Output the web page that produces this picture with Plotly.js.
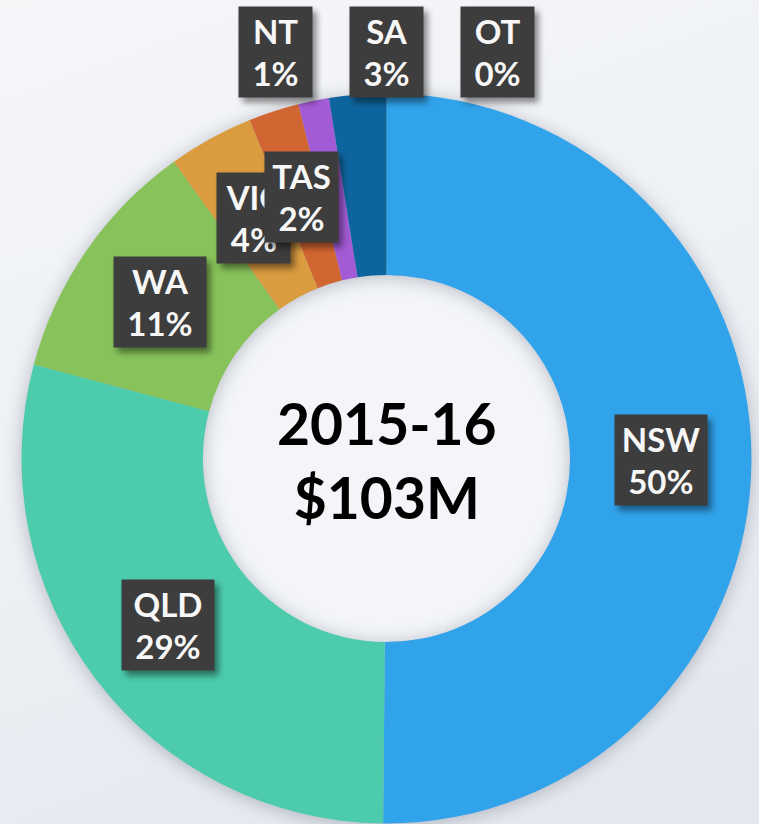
<!DOCTYPE html>
<html>
<head>
<meta charset="utf-8">
<script src="https://cdn.plot.ly/plotly-3.0.1.min.js"></script>
<style>
  html, body { margin: 0; padding: 0; }
  body { width: 759px; height: 824px; overflow: hidden;
    background: linear-gradient(160deg, #f5f6f8 0%, #eef1f5 45%, #e3e7ee 100%); }
  #chart { width: 759px; height: 824px; }
  .pielayer .trace { filter: drop-shadow(0px 2px 9px rgba(40,50,70,0.30)); }
  .annotation rect.bg { filter: drop-shadow(4px 5px 3px rgba(0,0,0,0.45)); }
</style>
</head>
<body>
<div id="chart"></div>
<script>
// ---- data ----
const regions = ['NSW', 'QLD', 'WA', 'VIC', 'TAS', 'NT', 'SA', 'OT'];
const fundingM = [51.7, 29.9, 11.3, 3.9, 2.3, 1.4, 2.6, 0];
const sliceColors = ['#31a3eb', '#4ccbad', '#87c25a', '#db9c40', '#d26632', '#a35bd5', '#0e659e', '#8a8a8a'];
const yearLabel = '2015-16';

// ---- layout geometry ----
const W = 759, H = 824;
const cx = 386.5, cy = 458.5, R = 365, holeFrac = 0.503;
const labelR = 275;
const total = fundingM.reduce((a, b) => a + b, 0);
const totalLabel = '$' + Math.round(total) + 'M';

const px2x = p => p / W;
const py2y = p => 1 - p / H;

const annotations = [];
let cum = 0;
fundingM.forEach((v, i) => {
  const frac = v / total;
  const mid = (cum + frac / 2) * 2 * Math.PI;
  cum += frac;
  let lx, ly;
  if (i < 5) {
    lx = cx + labelR * Math.sin(mid);
    ly = cy - labelR * Math.cos(mid);
  } else {
    // small trailing slices: labels lifted into a row above the ring
    lx = cx + (i - 6) * 111;
    ly = 52;
  }
  const pct = Math.round(frac * 100);
  const wide = frac >= 0.1;
  annotations.push({
    xref: 'paper', yref: 'paper', x: px2x(lx), y: py2y(ly),
    xanchor: 'center', yanchor: 'middle', showarrow: false,
    text: '<b>' + regions[i] + '<br>' + pct + '%</b>',
    font: { family: 'Lato, "Open Sans", sans-serif', size: 33, color: '#f7f7f7', weight: 700 },
    bgcolor: '#3d3d3d', borderpad: 6,
    width: wide ? 80 : 61, height: 78, align: 'center'
  });
});
annotations.push({
  xref: 'paper', yref: 'paper', x: px2x(cx), y: py2y(cy + 2),
  xanchor: 'center', yanchor: 'middle', showarrow: false,
  text: '<b>' + yearLabel + '<br>' + totalLabel + '</b>',
  font: { family: 'Lato, "Open Sans", sans-serif', size: 57, color: '#000000', weight: 900 }
});

const trace = {
  type: 'pie',
  labels: regions,
  values: fundingM,
  marker: { colors: sliceColors, line: { width: 0 } },
  sort: false,
  direction: 'clockwise',
  rotation: 0,
  hole: holeFrac,
  textinfo: 'none',
  hoverinfo: 'skip',
  domain: { x: [px2x(cx - R), px2x(cx + R)], y: [1 - (cy + R) / H, 1 - (cy - R) / H] }
};

const rh = R * holeFrac;
const layout = {
  width: W, height: H,
  margin: { l: 0, r: 0, t: 0, b: 0 },
  paper_bgcolor: 'rgba(0,0,0,0)',
  plot_bgcolor: 'rgba(0,0,0,0)',
  showlegend: false,
  shapes: [{
    type: 'circle', xref: 'paper', yref: 'paper', layer: 'below',
    x0: px2x(cx - rh), x1: px2x(cx + rh), y0: py2y(cy + rh), y1: py2y(cy - rh),
    fillcolor: '#f3f5f8', line: { width: 0 }
  }],
  annotations: annotations
};

Plotly.newPlot('chart', [trace], layout, { displayModeBar: false, staticPlot: true });
</script>
</body>
</html>
